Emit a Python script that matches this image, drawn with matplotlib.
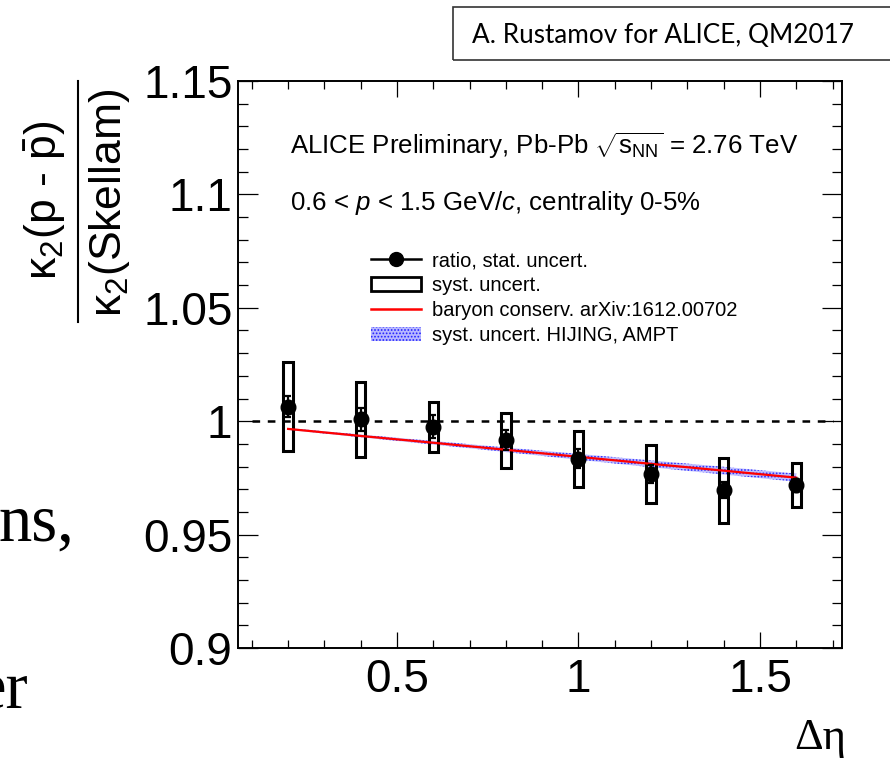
import matplotlib
matplotlib.use('Agg')
import matplotlib.pyplot as plt
from matplotlib.lines import Line2D
from matplotlib.patches import Rectangle, Patch
import numpy as np

# ---------------- data ----------------
delta_eta = [0.2, 0.4, 0.6, 0.8, 1.0, 1.2, 1.4, 1.6]
ratio = [1.0064, 1.0008, 0.9976, 0.9917, 0.9835, 0.9767, 0.9697, 0.9717]
stat_err = [0.0045, 0.0050, 0.0050, 0.0045, 0.0043, 0.0038, 0.0035, 0.0030]
syst_hi = [1.0259, 1.0173, 1.0084, 1.0036, 0.9958, 0.9894, 0.9837, 0.9814]
syst_lo = [0.9867, 0.9841, 0.9863, 0.9795, 0.9710, 0.9638, 0.9551, 0.9620]
model_ratio = [0.9966, 0.9935, 0.9905, 0.9874, 0.9843, 0.9812, 0.9782, 0.9751]
model_band = [0.0004, 0.0006, 0.0008, 0.0010, 0.0013, 0.0015, 0.0017, 0.0018]
ref_x = [0.1, 1.7]
ref_y = [1.0, 1.0]

xticks = [0.5, 1.0, 1.5]
xtick_labels = ['0.5', '1', '1.5']
yticks = [0.9, 0.95, 1.0, 1.05, 1.1, 1.15]
ytick_labels = ['0.9', '0.95', '1', '1.05', '1.1', '1.15']

legend_labels = ['ratio, stat. uncert.', 'syst. uncert.',
                 'baryon conserv. arXiv:1612.00702', 'syst. uncert. HIJING, AMPT']

# ---------------- style ----------------
plt.rcParams['font.family'] = ['Liberation Sans', 'DejaVu Sans']
plt.rcParams['mathtext.fontset'] = 'custom'
plt.rcParams['mathtext.rm'] = 'Liberation Sans'
plt.rcParams['mathtext.it'] = 'Liberation Sans:italic'
plt.rcParams['mathtext.bf'] = 'Liberation Sans:bold'
plt.rcParams['lines.scale_dashes'] = False
plt.rcParams['hatch.linewidth'] = 0.8

W, H = 890, 758
def fx(p):
    return p / W
def fy(p):
    return 1 - p / H

fig = plt.figure(figsize=(W / 100, H / 100), dpi=100)
fig.patch.set_facecolor('white')

ax = fig.add_axes([fx(238), fy(648), fx(842) - fx(238), fy(81) - fy(648)])
ax.set_xlim(0.062, 1.726)
ax.set_ylim(0.9, 1.15)

x = np.array(delta_eta)
y = np.array(ratio)
half_w = 0.013

# systematic boxes
for xi, lo, hi in zip(delta_eta, syst_lo, syst_hi):
    ax.add_patch(Rectangle((xi - half_w, lo), 2 * half_w, hi - lo, fill=False,
                           edgecolor='black', linewidth=2.2, zorder=3))

# model band and line
mr = np.array(model_ratio)
mb = np.array(model_band)
ax.fill_between(x, mr - mb, mr + mb, facecolor='#b8b8ff', edgecolor='#2020ff',
                hatch='.....', linewidth=0, alpha=0.9, zorder=2)
ax.plot(x, mr, color='#ff0000', lw=1.6, zorder=4)

# reference dashed line
ax.plot(ref_x, ref_y, color='black', lw=1.8, dashes=[5.5, 5.5], zorder=2)

# data points
ax.errorbar(x, y, yerr=stat_err, fmt='o', color='black', markersize=10.5,
            elinewidth=1.6, capsize=2.5, capthick=1.6, zorder=5)

# axes styling
for s in ax.spines.values():
    s.set_linewidth(1.4)
ax.set_xticks(xticks)
ax.set_xticklabels(xtick_labels)
ax.set_yticks(yticks)
ax.set_yticklabels(ytick_labels)
ax.set_xticks(np.arange(0.1, 1.71, 0.1), minor=True)
ax.set_yticks(np.arange(0.9, 1.1501, 0.01), minor=True)
ax.tick_params(which='both', direction='in', top=True, right=True, width=0.9,
               labelsize=33)
ax.tick_params(axis='x', which='major', length=11.5, pad=7)
ax.tick_params(axis='x', which='minor', length=5.8)
ax.tick_params(axis='y', which='major', length=14.4, pad=4)
ax.tick_params(axis='y', which='minor', length=7.2)

# texts in the pad
fig.text(fx(290), fy(154), r'ALICE Preliminary, Pb-Pb $\sqrt{\mathrm{s}_{\mathrm{NN}}}$ = 2.76 TeV',
         fontsize=18.6, va='baseline', ha='left')
fig.text(fx(290), fy(210), r'0.6 < $p$ < 1.5 GeV/$c$, centrality 0-5%',
         fontsize=18.6, va='baseline', ha='left')

# legend
handles = [
    Line2D([], [], color='black', marker='o', markersize=10, lw=1.8),
    Rectangle((0, 0), 1, 1, facecolor='white', edgecolor='black', linewidth=2.0),
    Line2D([], [], color='#ff0000', lw=1.8),
    Patch(facecolor='#b8b8ff', edgecolor='#2020ff', hatch='.....', linewidth=0),
]
ax.legend(handles, legend_labels, loc='upper left', bbox_to_anchor=(fx(371), fy(251)),
          bbox_transform=fig.transFigure, frameon=False, fontsize=14.5,
          handlelength=2.5, handletextpad=0.55, labelspacing=0.3,
          borderpad=0, borderaxespad=0)

# y-axis title as a fraction
fig.text(fx(45), fy(200), r'κ$_2$(p - $\bar{\mathrm{p}}$)', rotation=90,
         fontsize=32, ha='center', va='center')
fig.text(fx(109), fy(203), r'κ$_2$(Skellam)', rotation=90,
         fontsize=32, ha='center', va='center')
fig.add_artist(Line2D([fx(78), fx(78)], [fy(81), fy(322)], color='black', lw=1.5,
                      transform=fig.transFigure))

# x-axis title
fig.text(fx(846), fy(749), 'Δη', fontsize=32, ha='right', va='baseline',
         family=['Liberation Serif', 'DejaVu Serif'])

# slide fragments around the chart
fig.text(fx(-2), fy(541), 'ns,', fontsize=48, ha='left', va='baseline',
         family=['Liberation Serif', 'DejaVu Serif'])
fig.text(fx(28), fy(707), 'er', fontsize=48, ha='right', va='baseline',
         family=['Liberation Serif', 'DejaVu Serif'])

# top-right credit box
fig.add_artist(Rectangle((fx(453), fy(60)), 0.6, 53 / H, fill=False, edgecolor='#333333',
                         linewidth=1.2, transform=fig.transFigure))
fig.text(fx(472), fy(43), 'A. Rustamov for ALICE, QM2017', fontsize=18.8,
         ha='left', va='baseline', family=['Lato', 'DejaVu Sans'])

fig.savefig('out.png', dpi=100)
